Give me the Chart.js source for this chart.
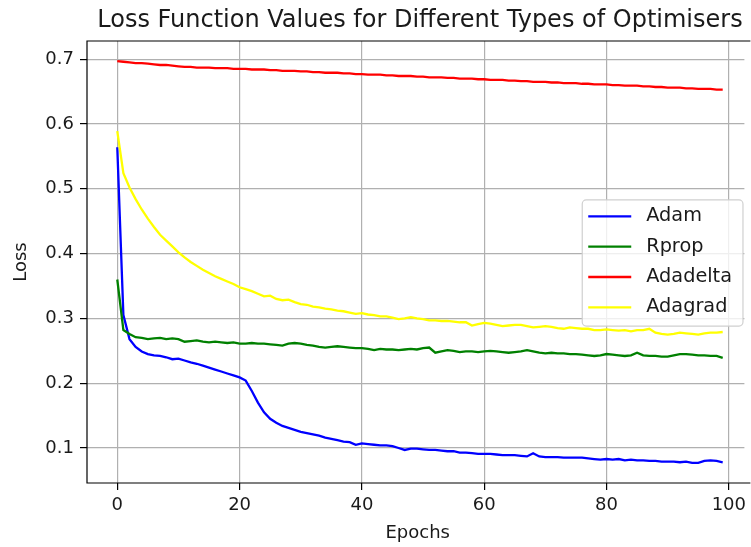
<!DOCTYPE html>
<html>
<head>
<meta charset="utf-8">
<title>Loss Function Values for Different Types of Optimisers</title>
<script src="https://cdn.jsdelivr.net/npm/chart.js@4.4.1/dist/chart.umd.min.js"></script>
<style>
  html, body { margin: 0; padding: 0; background: #fff; overflow: hidden; }
</style>
</head>
<body>
<canvas id="lossChart" width="751" height="547"></canvas>
<script>

// epoch index for every recorded loss value
const epochs = Array.from({ length: 100 }, (_, i) => i);

const xTicks = [0, 20, 40, 60, 80, 100];
const yTicks = [0.1, 0.2, 0.3, 0.4, 0.5, 0.6, 0.7];

const adamLoss = [
  0.564, 0.305, 0.268, 0.256, 0.249, 0.245, 0.243, 0.242, 0.240, 0.237,
  0.238, 0.235, 0.232, 0.230, 0.227, 0.224, 0.221, 0.218, 0.215, 0.212,
  0.209, 0.204, 0.188, 0.170, 0.155, 0.145, 0.139, 0.134, 0.131, 0.128,
  0.125, 0.123, 0.121, 0.119, 0.116, 0.114, 0.112, 0.110, 0.109, 0.105,
  0.107, 0.106, 0.105, 0.104, 0.104, 0.103, 0.100, 0.097, 0.099, 0.099,
  0.098, 0.097, 0.097, 0.096, 0.095, 0.095, 0.093, 0.093, 0.092, 0.091,
  0.091, 0.091, 0.090, 0.089, 0.089, 0.089, 0.088, 0.087, 0.092, 0.087,
  0.086, 0.086, 0.086, 0.085, 0.085, 0.085, 0.085, 0.084, 0.083, 0.082,
  0.083, 0.082, 0.083, 0.081, 0.082, 0.081, 0.081, 0.080, 0.080, 0.079,
  0.079, 0.079, 0.078, 0.079, 0.077, 0.077, 0.080, 0.081, 0.080, 0.078
];

const rpropLoss = [
  0.360, 0.282, 0.276, 0.271, 0.270, 0.268, 0.269, 0.270, 0.268, 0.269,
  0.268, 0.264, 0.265, 0.266, 0.264, 0.263, 0.264, 0.263, 0.262, 0.263,
  0.261, 0.261, 0.262, 0.261, 0.261, 0.260, 0.259, 0.258, 0.261, 0.262,
  0.261, 0.259, 0.258, 0.256, 0.255, 0.256, 0.257, 0.256, 0.255, 0.254,
  0.254, 0.253, 0.251, 0.253, 0.252, 0.252, 0.251, 0.252, 0.253, 0.252,
  0.254, 0.255, 0.247, 0.249, 0.251, 0.250, 0.248, 0.249, 0.249, 0.248,
  0.249, 0.250, 0.249, 0.248, 0.247, 0.248, 0.249, 0.251, 0.249, 0.247,
  0.246, 0.247, 0.246, 0.246, 0.245, 0.245, 0.244, 0.243, 0.242, 0.243,
  0.245, 0.244, 0.243, 0.242, 0.243, 0.247, 0.243, 0.242, 0.242, 0.241,
  0.241, 0.243, 0.245, 0.245, 0.244, 0.243, 0.243, 0.242, 0.242, 0.239
];

const adadeltaLoss = [
  0.697, 0.696, 0.695, 0.694, 0.694, 0.693, 0.692, 0.691, 0.691, 0.690,
  0.689, 0.688, 0.688, 0.687, 0.687, 0.687, 0.686, 0.686, 0.686, 0.685,
  0.685, 0.685, 0.684, 0.684, 0.684, 0.683, 0.683, 0.682, 0.682, 0.682,
  0.681, 0.681, 0.680, 0.680, 0.679, 0.679, 0.679, 0.678, 0.678, 0.677,
  0.677, 0.676, 0.676, 0.676, 0.675, 0.675, 0.674, 0.674, 0.674, 0.673,
  0.673, 0.672, 0.672, 0.672, 0.671, 0.671, 0.670, 0.670, 0.670, 0.669,
  0.669, 0.668, 0.668, 0.668, 0.667, 0.667, 0.666, 0.666, 0.665, 0.665,
  0.665, 0.664, 0.664, 0.663, 0.663, 0.663, 0.662, 0.662, 0.661, 0.661,
  0.661, 0.660, 0.660, 0.659, 0.659, 0.659, 0.658, 0.658, 0.657, 0.657,
  0.656, 0.656, 0.656, 0.655, 0.655, 0.654, 0.654, 0.654, 0.653, 0.653
];

const adagradLoss = [
  0.589, 0.524, 0.502, 0.484, 0.468, 0.454, 0.441, 0.429, 0.420, 0.411,
  0.402, 0.394, 0.387, 0.381, 0.375, 0.370, 0.365, 0.361, 0.357, 0.353,
  0.348, 0.345, 0.342, 0.338, 0.334, 0.335, 0.330, 0.328, 0.329, 0.325,
  0.322, 0.321, 0.318, 0.317, 0.315, 0.314, 0.312, 0.311, 0.309, 0.307,
  0.308, 0.306, 0.305, 0.303, 0.303, 0.301, 0.299, 0.300, 0.302, 0.300,
  0.299, 0.297, 0.297, 0.296, 0.296, 0.295, 0.294, 0.294, 0.289, 0.291,
  0.293, 0.292, 0.290, 0.288, 0.289, 0.290, 0.290, 0.288, 0.286, 0.287,
  0.288, 0.287, 0.285, 0.284, 0.286, 0.285, 0.284, 0.284, 0.282, 0.282,
  0.283, 0.282, 0.281, 0.282, 0.280, 0.282, 0.282, 0.284, 0.278, 0.276,
  0.275, 0.276, 0.278, 0.277, 0.276, 0.275, 0.277, 0.278, 0.278, 0.279
];

const FONT = 'DejaVu Sans';
const TEXT_COLOR = '#1a1a1a';
const GRID_COLOR = '#b0b0b0';

// full x extent of the axes box; the page cuts it a little before its right end
const X_MIN = -4.95;
const X_MAX_FULL = 103.95;
const X_MAX_SHOWN = 103.2;

Chart.defaults.font.family = FONT;
Chart.defaults.color = TEXT_COLOR;

function lineSet(label, data, color, order) {
  return {
    label: label,
    data: data,
    borderColor: color,
    backgroundColor: color,
    borderWidth: 2.3,
    pointRadius: 0,
    tension: 0,
    fill: false,
    order: order
  };
}

// only grid lines that sit on one of the listed ticks
function gridColor(list) {
  return c => (c.tick && list.includes(c.tick.value)) ? GRID_COLOR : 'rgba(0,0,0,0)';
}

// black spines (left, top, bottom), drawn above the lines;
// the right spine lies past the page edge, so that strip stays blank
const axesFrame = {
  id: 'axesFrame',
  afterDatasetsDraw(chart) {
    const { ctx, chartArea } = chart;
    const { left, right, top, bottom } = chartArea;
    ctx.save();
    ctx.fillStyle = '#fff';
    ctx.fillRect(right - 4, top, 8, bottom - top);
    ctx.strokeStyle = '#000';
    ctx.lineWidth = 1.2;
    ctx.beginPath();
    ctx.moveTo(right + 2, top);
    ctx.lineTo(left, top);
    ctx.lineTo(left, bottom);
    ctx.lineTo(right + 2, bottom);
    ctx.stroke();
    ctx.restore();
  }
};

// title centred over the whole axes box + legend box at centre right
const titleAndLegend = {
  id: 'titleAndLegend',
  afterDraw(chart) {
    const { ctx, chartArea, scales } = chart;
    const axesRight = scales.x.getPixelForValue(X_MAX_FULL);
    ctx.save();

    ctx.fillStyle = TEXT_COLOR;
    ctx.font = `24px "${FONT}"`;
    ctx.textAlign = 'center';
    ctx.textBaseline = 'middle';
    ctx.fillText('Loss Function Values for Different Types of Optimisers',
      (chartArea.left + axesRight) / 2, 21);

    const sets = chart.data.datasets;
    ctx.font = `19.3px "${FONT}"`;
    const textW = Math.max(...sets.map(d => ctx.measureText(d.label).width));
    const rowH = 30.3;
    const w = 6 + 43 + 15 + textW + 11;
    const h = sets.length * rowH + 5;
    const right = axesRight - 10;
    const left = right - w;
    const top = (chartArea.top + chartArea.bottom) / 2 - h / 2 + 1;

    ctx.beginPath();
    ctx.roundRect(left, top, w, h, 4);
    ctx.fillStyle = 'rgba(255,255,255,0.8)';
    ctx.fill();
    ctx.strokeStyle = '#d0d0d0';
    ctx.lineWidth = 1.2;
    ctx.stroke();

    ctx.textAlign = 'left';
    sets.forEach((d, i) => {
      const y = top + 16.5 + i * rowH;
      ctx.beginPath();
      ctx.moveTo(left + 6, y);
      ctx.lineTo(left + 49, y);
      ctx.strokeStyle = d.borderColor;
      ctx.lineWidth = 2.3;
      ctx.stroke();
      ctx.fillStyle = TEXT_COLOR;
      ctx.fillText(d.label, left + 64, y);
    });

    ctx.restore();
  }
};

const ctx = document.getElementById('lossChart');

new Chart(ctx, {
  type: 'line',
  data: {
    labels: epochs,
    datasets: [
      lineSet('Adam', adamLoss, '#0000ff', 4),
      lineSet('Rprop', rpropLoss, '#008000', 3),
      lineSet('Adadelta', adadeltaLoss, '#ff0000', 2),
      lineSet('Adagrad', adagradLoss, '#ffff00', 1)
    ]
  },
  options: {
    responsive: false,
    animation: false,
    events: [],
    layout: { padding: { top: 41, right: 0, left: 0, bottom: 0 } },
    plugins: {
      legend: { display: false },
      title: { display: false },
      tooltip: { enabled: false }
    },
    scales: {
      x: {
        type: 'linear',
        min: X_MIN,
        max: X_MAX_SHOWN,
        afterBuildTicks: scale => { scale.ticks = xTicks.map(v => ({ value: v })); },
        afterFit: scale => { scale.height = 64; },
        ticks: {
          font: { size: 18 },
          padding: 5,
          maxRotation: 0,
          callback: v => String(v)
        },
        grid: {
          color: gridColor(xTicks),
          lineWidth: 1.2,
          tickColor: '#000',
          tickLength: 7,
          tickWidth: 1.2
        },
        border: { display: false },
        title: {
          display: true,
          text: 'Epochs',
          font: { size: 18 },
          padding: { top: 0, bottom: 3 }
        }
      },
      y: {
        min: 0.046,
        max: 0.728,
        afterBuildTicks: scale => { scale.ticks = yTicks.map(v => ({ value: v })); },
        afterFit: scale => { scale.width = 87; },
        ticks: {
          font: { size: 18 },
          padding: 6,
          callback: v => v.toFixed(1)
        },
        grid: {
          color: gridColor(yTicks),
          lineWidth: 1.2,
          tickColor: '#000',
          tickLength: 7,
          tickWidth: 1.2
        },
        border: { display: false },
        title: {
          display: true,
          text: 'Loss',
          font: { size: 18 },
          padding: { top: 11, bottom: 0 }
        }
      }
    }
  },
  plugins: [axesFrame, titleAndLegend]
});
</script>
</body>
</html>
